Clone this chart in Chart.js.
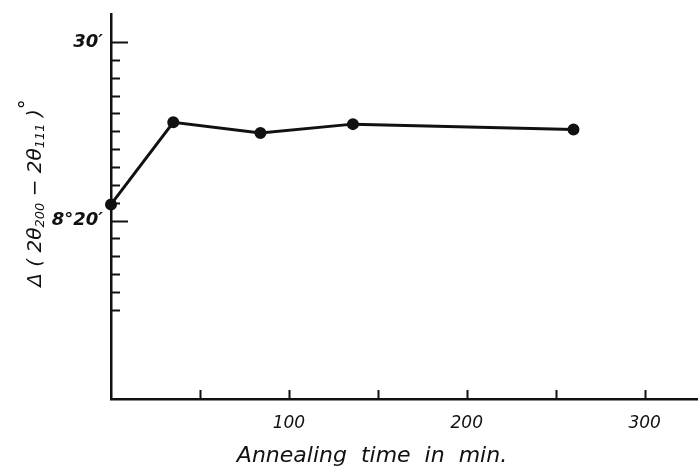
<!DOCTYPE html>
<html>
<head>
<meta charset="utf-8">
<script src="https://cdn.jsdelivr.net/npm/chart.js@4"></script>
<style>
  html, body { margin: 0; padding: 0; background: #fff; overflow: hidden; }
  #wrap { width: 698px; height: 476px; }
  canvas { display: block; }
</style>
</head>
<body>
<div id="wrap"><canvas id="chart" width="698" height="476"></canvas></div>
<script>
// Annealing time (min) and peak separation in minutes of arc above 8°
const annealTime = [0, 35, 84, 136, 260];
const deltaMinutes = [20.9, 25.5, 24.9, 25.4, 25.1];

const xTickValues = [100, 200, 300];
const xMarkValues = [50, 100, 150, 200, 250, 300];
const yTickLabels = { 20: '8°20′', 30: '30′' };
const yMarkValues = [15, 16, 17, 18, 19, 20, 21, 22, 23, 24, 25, 26, 27, 28, 29, 30];

const ink = '#111';

// small inward tick marks and the two axis titles
const decorations = {
    id: 'decorations',
    afterDraw(chart) {
        const ctx = chart.ctx;
        const xs = chart.scales.x;
        const ys = chart.scales.y;
        const x0 = xs.getPixelForValue(0);
        const yb = ys.getPixelForValue(ys.min);
        ctx.save();
        ctx.strokeStyle = ink;
        ctx.lineWidth = 2;
        yMarkValues.forEach(v => {
            const y = Math.round(ys.getPixelForValue(v)) + 0.5;
            const len = yTickLabels[v] ? 17 : 9;
            ctx.beginPath();
            ctx.moveTo(x0, y);
            ctx.lineTo(x0 + len, y);
            ctx.stroke();
        });
        xMarkValues.forEach(v => {
            const x = Math.round(xs.getPixelForValue(v)) + 0.5;
            ctx.beginPath();
            ctx.moveTo(x, yb);
            ctx.lineTo(x, yb - 9);
            ctx.stroke();
        });

        // x title
        ctx.fillStyle = ink;
        ctx.font = 'italic 22px "DejaVu Sans"';
        ctx.textAlign = 'center';
        ctx.textBaseline = 'middle';
        ctx.fillText('Annealing  time  in  min.', 372, 456);

        // y title with subscripts, rotated
        ctx.translate(36, 193);
        ctx.rotate(-Math.PI / 2);
        const parts = [
            ['Δ ( 2θ', 20, 0],
            ['200', 13, 5],
            [' − 2θ', 20, 0],
            ['111', 13, 5],
            [' )', 20, 0],
            ['°', 20, -8]
        ];
        let w = 0;
        parts.forEach(p => {
            ctx.font = 'italic ' + p[1] + 'px "DejaVu Sans"';
            w += ctx.measureText(p[0]).width;
        });
        let cx = -w / 2;
        ctx.textAlign = 'left';
        parts.forEach(p => {
            ctx.font = 'italic ' + p[1] + 'px "DejaVu Sans"';
            ctx.fillText(p[0], cx, p[2]);
            cx += ctx.measureText(p[0]).width;
        });
        ctx.restore();
    }
};

new Chart(document.getElementById('chart').getContext('2d'), {
    type: 'line',
    data: {
        datasets: [{
            data: annealTime.map((t, i) => ({ x: t, y: deltaMinutes[i] })),
            borderColor: ink,
            backgroundColor: ink,
            borderWidth: 3,
            pointRadius: 4.5,
            pointHoverRadius: 4.5,
            tension: 0,
            clip: false
        }]
    },
    options: {
        responsive: false,
        animation: false,
        layout: { autoPadding: false, padding: { top: 14, right: 0, left: 0, bottom: 0 } },
        plugins: {
            legend: { display: false },
            tooltip: { enabled: false }
        },
        scales: {
            x: {
                type: 'linear',
                min: 0,
                max: 330,
                grid: { display: false, drawTicks: false },
                border: { display: true, color: ink, width: 2.5 },
                afterBuildTicks: s => { s.ticks = xTickValues.map(v => ({ value: v })); },
                afterFit: s => {
                    s.height = 77;
                    s.paddingLeft = 0;
                    s.paddingRight = 0;
                },
                ticks: {
                    color: ink,
                    padding: 14,
                    font: { family: 'DejaVu Sans', style: 'italic', size: 17 },
                    callback: v => String(v)
                }
            },
            y: {
                type: 'linear',
                min: 10,
                max: 31.57,
                grid: { display: false, drawTicks: false },
                border: { display: true, color: ink, width: 2.5 },
                afterBuildTicks: s => { s.ticks = [20, 30].map(v => ({ value: v })); },
                afterFit: s => {
                    s.width = 111;
                    s.paddingTop = 0;
                    s.paddingBottom = 0;
                },
                ticks: {
                    color: ink,
                    padding: 8,
                    font: { family: 'DejaVu Sans', style: 'italic', weight: 'bold', size: 18 },
                    callback: v => yTickLabels[v] || ''
                }
            }
        }
    },
    plugins: [decorations]
});
</script>
</body>
</html>
